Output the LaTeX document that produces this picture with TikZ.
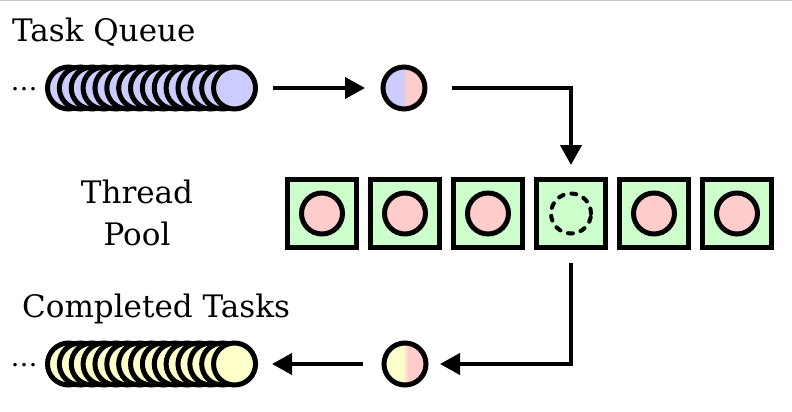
\documentclass[tikz,border=0pt]{standalone}
\usepackage{fontspec}
\setmainfont{DejaVu Serif}
\usetikzlibrary{arrows.meta}

\definecolor{taskblue}{HTML}{CCCCFF}
\definecolor{taskpink}{HTML}{FFCCCC}
\definecolor{taskyellow}{HTML}{FFFFCC}
\definecolor{poolgreen}{HTML}{CCFFCC}
\definecolor{edgegray}{HTML}{C8CDD4}

% half blue / half pink and half yellow / half pink fills
\pgfdeclarehorizontalshading{bluepink}{100bp}{color(0bp)=(taskblue); color(47bp)=(taskblue); color(54bp)=(taskpink); color(100bp)=(taskpink)}
\pgfdeclarehorizontalshading{yellowpink}{100bp}{color(0bp)=(taskyellow); color(47bp)=(taskyellow); color(54bp)=(taskpink); color(100bp)=(taskpink)}

\tikzset{
    task/.style={circle, draw, line width=5pt, inner sep=0pt, minimum size=42pt},
    worker/.style={rectangle, draw, line width=5pt, fill=poolgreen, inner sep=0pt, minimum width=69pt, minimum height=68pt},
    label/.style={font=\fontsize{31}{42}\selectfont, inner sep=0pt},
    dots/.style={font=\fontsize{27}{30}\selectfont, inner sep=0pt},
    arr/.style={line width=4pt, -{Triangle[length=20pt,width=21pt]}}
}

\begin{document}
\begin{tikzpicture}[x=1pt,y=-1pt]
        \useasboundingbox (0,0) rectangle (792,412);

        % thin edge at the top
        \draw[edgegray, line width=1.5pt] (0,0.75) -- (792,0.75);

        % draw the task queue
        \node[label, anchor=base west] (queuelabel) at (12,41.5) {Task Queue};
        \node[dots, anchor=base] (queuedots) at (24,90) {\ldots};
        \foreach \i in {1,...,15}{
            \node[task, fill=taskblue] (q\i) at ({68.5+(\i-1)*11.86},88) {};
        }

        % task taken from the queue
        \node[task, shading=bluepink] (cur) at (404,88) {};

        % draw the thread pool
        \node[label, align=center, anchor=base] (poollabel) at (137,245) {Thread\\Pool};
        \foreach \i in {1,...,6}{
            \node[worker] (t\i) at ({322+(\i-1)*83},213.5) {};
        }
        % busy workers hold a task, worker 4 is free
        \foreach \i in {1,2,3,5,6}{
            \node[task, fill=taskpink, minimum size=41pt] (w\i) at (t\i) {};
        }
        \node[task, minimum size=40pt, dash pattern=on 5pt off 8pt, line cap=round, line width=4pt] (w4) at (t4) {};

        % draw the completed tasks
        \node[label, anchor=base west] (donelabel) at (22,317) {Completed Tasks};
        \node[dots, anchor=base] (donedots) at (24,366) {\ldots};
        \foreach \i in {1,...,15}{
            \node[task, fill=taskyellow] (d\i) at ({68.5+(\i-1)*11.86},364) {};
        }

        % task handed back by the pool
        \node[task, shading=yellowpink] (done) at (405,364) {};

        % draw the arrows between the stages
        \draw[arr, shorten <=15pt, shorten >=15.5pt] (q15) -- (cur);
        \draw[arr, shorten <=24.5pt, shorten >=12pt] (cur.east) -| (t4.north);
        \draw[arr, shorten <=13pt, shorten >=11.5pt] (t4.south) |- (done.east);
        \draw[arr, shorten <=18.5pt, shorten >=14pt] (done) -- (d15);

    \end{tikzpicture}
\end{document}
